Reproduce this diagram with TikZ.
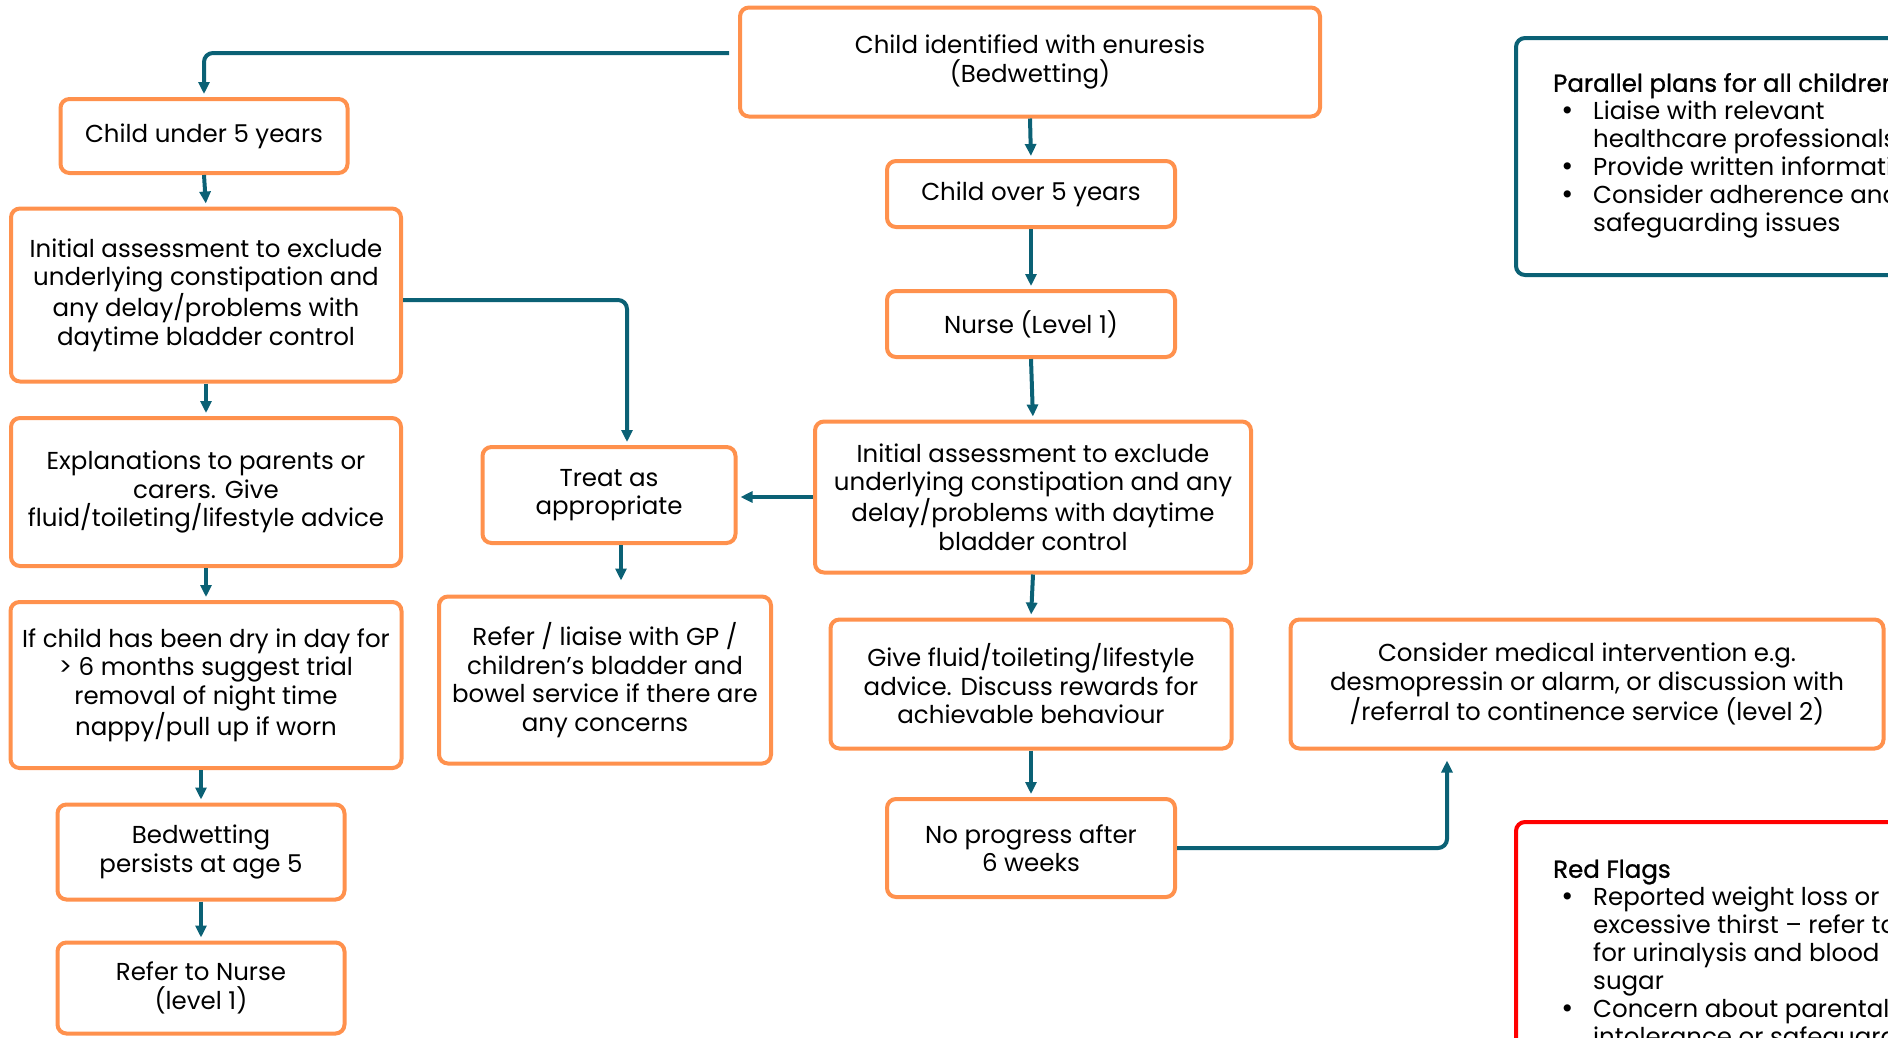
\documentclass[tikz,border=0pt]{standalone}
\usepackage{fontspec}
\setmainfont{Poppins}
\newfontfamily\popbold[FakeBold=1.0]{Poppins}
\newfontfamily\bulfont{DejaVu Sans}
\usetikzlibrary{arrows.meta,calc}
\definecolor{boxorange}{HTML}{FF914D}
\definecolor{linkteal}{HTML}{0B6175}
\definecolor{flagred}{HTML}{FF0000}
\newcommand{\bul}{\hspace{7pt}{\bulfont •}}
\begin{document}
\begin{tikzpicture}[x=1pt,y=-1pt,
  fbox/.style={draw=boxorange, line width=4pt, rounded corners=9pt, align=center,
    font=\fontsize{24.5}{28.5}\selectfont, inner sep=0pt, fill=white},
  conn/.style={draw=linkteal, line width=4pt, rounded corners=9pt},
  arr/.style={conn, -{Triangle[length=12pt,width=11pt]}, shorten >=3pt},
  infobox/.style={line width=4pt, rounded corners=9pt},
  infotext/.style={anchor=north west, inner sep=0pt, align=left,
    font=\fontsize{24.5}{28}\selectfont}
]
\useasboundingbox (0,0) rectangle (1888,1037);
\clip (0,0) rectangle (1888,1037);

% centre column
\node[fbox, minimum width=580pt, minimum height=109pt] (enu) at (1030,62) {Child identified with enuresis\\(Bedwetting)};
\node[fbox, minimum width=288pt, minimum height=66pt] (over5) at (1031,194) {Child over 5 years};
\node[fbox, minimum width=288pt, minimum height=66pt] (nurse) at (1031,324) {Nurse (Level 1)};
\node[fbox, minimum width=436pt, minimum height=151pt] (rinit) at (1033,497) {Initial assessment to exclude\\underlying constipation and any\\delay/problems with daytime\\bladder control};
\node[fbox, minimum width=401pt, minimum height=129pt] (give) at (1031,684) {Give fluid/toileting/lifestyle\\advice. Discuss rewards for\\achievable behaviour};
\node[fbox, minimum width=288pt, minimum height=98pt] (noprog) at (1031,848) {No progress after\\6 weeks};
\node[fbox, minimum width=593pt, minimum height=129pt] (consider) at (1587,684) {Consider medical intervention e.g.\\desmopressin or alarm, or discussion with\\/referral to continence service (level 2)};

% left column
\node[fbox, minimum width=287pt, minimum height=74pt] (under5) at (204,136) {Child under 5 years};
\node[fbox, minimum width=390pt, minimum height=173pt] (linit) at (206,295) {Initial assessment to exclude\\underlying constipation and\\any delay/problems with\\daytime bladder control};
\node[fbox, minimum width=390pt, minimum height=148pt] (expl) at (206,492) {Explanations to parents or\\carers. Give\\fluid/toileting/lifestyle advice};
\node[fbox, minimum width=391pt, minimum height=166pt] (ifchild) at (206,685) {If child has been dry in day for\\> 6 months suggest trial\\removal of night time\\nappy/pull up if worn};
\node[fbox, minimum width=287pt, minimum height=95pt] (bedp) at (201,852) {Bedwetting\\persists at age 5};
\node[fbox, minimum width=287pt, minimum height=91pt] (refnurse) at (201,988) {Refer to Nurse\\(level 1)};

% middle column
\node[fbox, minimum width=253pt, minimum height=96pt] (treat) at (609,495) {Treat as\\appropriate};
\node[fbox, minimum width=332pt, minimum height=167pt] (refer) at (605,680) {Refer / liaise with GP /\\children’s bladder and\\bowel service if there are\\any concerns};

% side boxes
\draw[infobox, draw=linkteal] (1516,38) rectangle (1990,275);
\node[infotext] (partext) at (1553,72) {\begin{tabular}{@{}p{40pt}@{}l@{}}
\multicolumn{2}{@{}l@{}}{\popbold Parallel plans for all children}\\
\bul & Liaise with relevant\\
 & healthcare professionals\\
\bul & Provide written information\\
\bul & Consider adherence and\\
 & safeguarding issues
\end{tabular}};

\draw[infobox, draw=flagred] (1516,822) rectangle (1990,1200);
\node[infotext] (redtext) at (1553,858) {\begin{tabular}{@{}p{40pt}@{}l@{}}
\multicolumn{2}{@{}l@{}}{\popbold Red Flags}\\
\bul & Reported weight loss or\\
 & excessive thirst – refer to GP\\
 & for urinalysis and blood\\
 & sugar\\
\bul & Concern about parental\\
 & intolerance or safeguarding
\end{tabular}};

% connectors
\draw[arr] ([xshift=-9pt,yshift=9pt]enu.west) -| (under5.north);
\draw[arr] (enu.south) -- (over5.north);
\draw[arr] (over5.south) -- (nurse.north);
\draw[arr] (nurse.south) -- (rinit.north);
\draw[arr] (rinit.south) -- (give.north);
\draw[arr] (give.south) -- (noprog.north);
\draw[arr, shorten >=10pt] (noprog.east) -| ([xshift=-140pt]consider.south);

\draw[arr] (under5.south) -- (linit.north);
\draw[arr] (linit.south) -- (expl.north);
\draw[arr] (expl.south) -- (ifchild.north);
\draw[arr] (ifchild.south -| bedp.north) -- (bedp.north);
\draw[arr] (bedp.south) -- (refnurse.north);

\draw[arr] ([yshift=-5pt]linit.east) -| ([xshift=18pt]treat.north);
\draw[arr] (rinit.west) -- (rinit.west -| treat.east);
\draw[arr, shorten >=14pt] ([xshift=12pt]treat.south) -- ([xshift=16pt]refer.north);
\end{tikzpicture}
\end{document}
